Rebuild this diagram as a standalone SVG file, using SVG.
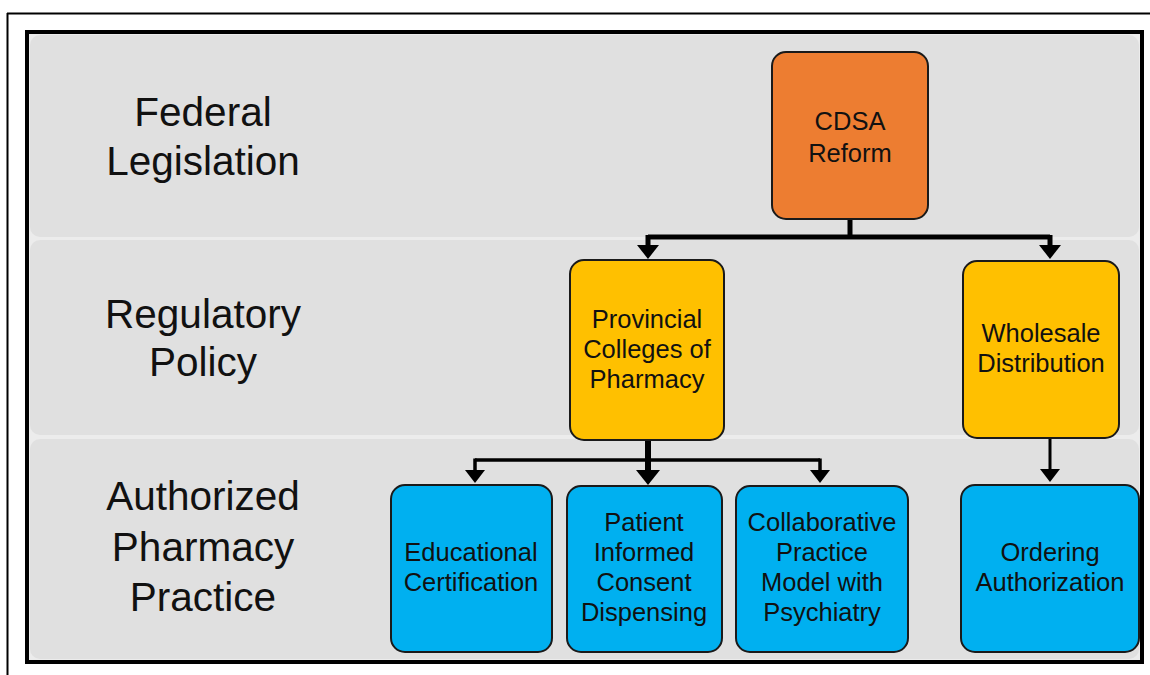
<svg xmlns="http://www.w3.org/2000/svg" width="1150" height="675" viewBox="0 0 1150 675">
<defs>
<style>
.band{fill:#e0e0e0;}
.lbl{font-family:"Liberation Sans",Arial,sans-serif;font-size:40.5px;fill:#111;text-anchor:middle;}
.bt{font-family:"Liberation Sans",Arial,sans-serif;font-size:25.5px;fill:#111;text-anchor:middle;}
.box{stroke:#1a1a1a;stroke-width:2;}
.orange{fill:#ED7D31;}
.yellow{fill:#FFC000;}
.blue{fill:#00B0F0;}
.con{fill:none;stroke:#000;}
.head{fill:#000;}
</style>
</defs>
<rect x="0" y="0" width="1150" height="675" fill="#fff"/>
<line x1="7" y1="13.5" x2="1150" y2="13.5" stroke="#000" stroke-width="2"/>
<line x1="7.5" y1="13" x2="7.5" y2="675" stroke="#000" stroke-width="2"/>
<rect x="27" y="32" width="1115" height="630" fill="#ececec" stroke="#000" stroke-width="4"/>
<g id="bands">
<rect class="band" x="30" y="35" width="1109" height="202" rx="10"/>
<rect class="band" x="30" y="240" width="1109" height="195" rx="10"/>
<rect class="band" x="30" y="439" width="1109" height="220" rx="10"/>
</g>
<g id="row-labels">
<text class="lbl" x="203" y="126">Federal</text>
<text class="lbl" x="203" y="175">Legislation</text>
<text class="lbl" x="203" y="328">Regulatory</text>
<text class="lbl" x="203" y="376">Policy</text>
<text class="lbl" x="203" y="510">Authorized</text>
<text class="lbl" x="203" y="561">Pharmacy</text>
<text class="lbl" x="203" y="611">Practice</text>
</g>
<g id="connectors">
<path class="con" stroke-width="5" d="M850,219 V237"/>
<path class="con" stroke-width="5" d="M648,237 H1050"/>
<path class="con" stroke-width="5" d="M648,235 V246"/>
<path class="con" stroke-width="5" d="M1050,235 V246"/>
<path class="head" d="M637,245 L659,245 L648,259 Z"/>
<path class="head" d="M1039,245 L1061,245 L1050,259 Z"/>
<path class="con" stroke-width="6" d="M648,440 V472"/>
<path class="con" stroke-width="3.5" d="M475,460 H820"/>
<path class="con" stroke-width="3.5" d="M475,458.5 V472"/>
<path class="con" stroke-width="3.5" d="M820,458.5 V472"/>
<path class="head" d="M465,470 L485,470 L475,483 Z"/>
<path class="head" d="M636,470 L660,470 L648,485 Z"/>
<path class="head" d="M810,470 L830,470 L820,483 Z"/>
<path class="con" stroke-width="3" d="M1050,438 V470"/>
<path class="head" d="M1040,469 L1060,469 L1050,482 Z"/>
</g>
<g id="n-cdsa">
<rect class="box orange" x="772" y="52" width="156" height="167" rx="14"/>
<text class="bt" x="850" y="130" font-size="27">CDSA</text>
<text class="bt" x="850" y="162" font-size="27">Reform</text>
</g>
<g id="n-provincial">
<rect class="box yellow" x="570" y="260" width="154" height="180" rx="14"/>
<text class="bt" x="647" y="328">Provincial</text>
<text class="bt" x="647" y="358">Colleges of</text>
<text class="bt" x="647" y="388">Pharmacy</text>
</g>
<g id="n-wholesale">
<rect class="box yellow" x="963" y="261" width="156" height="177" rx="14"/>
<text class="bt" x="1041" y="342">Wholesale</text>
<text class="bt" x="1041" y="372">Distribution</text>
</g>
<g id="n-educational">
<rect class="box blue" x="391" y="485" width="161" height="167" rx="14"/>
<text class="bt" x="471" y="561">Educational</text>
<text class="bt" x="471" y="591">Certification</text>
</g>
<g id="n-patient">
<rect class="box blue" x="567" y="486" width="155" height="166" rx="14"/>
<text class="bt" x="644" y="531">Patient</text>
<text class="bt" x="644" y="561">Informed</text>
<text class="bt" x="644" y="591">Consent</text>
<text class="bt" x="644" y="621">Dispensing</text>
</g>
<g id="n-collaborative">
<rect class="box blue" x="736" y="486" width="172" height="166" rx="14"/>
<text class="bt" x="822" y="531">Collaborative</text>
<text class="bt" x="822" y="561">Practice</text>
<text class="bt" x="822" y="591">Model with</text>
<text class="bt" x="822" y="621">Psychiatry</text>
</g>
<g id="n-ordering">
<rect class="box blue" x="961" y="485" width="178" height="167" rx="14"/>
<text class="bt" x="1050" y="561">Ordering</text>
<text class="bt" x="1050" y="591">Authorization</text>
</g>
</svg>
